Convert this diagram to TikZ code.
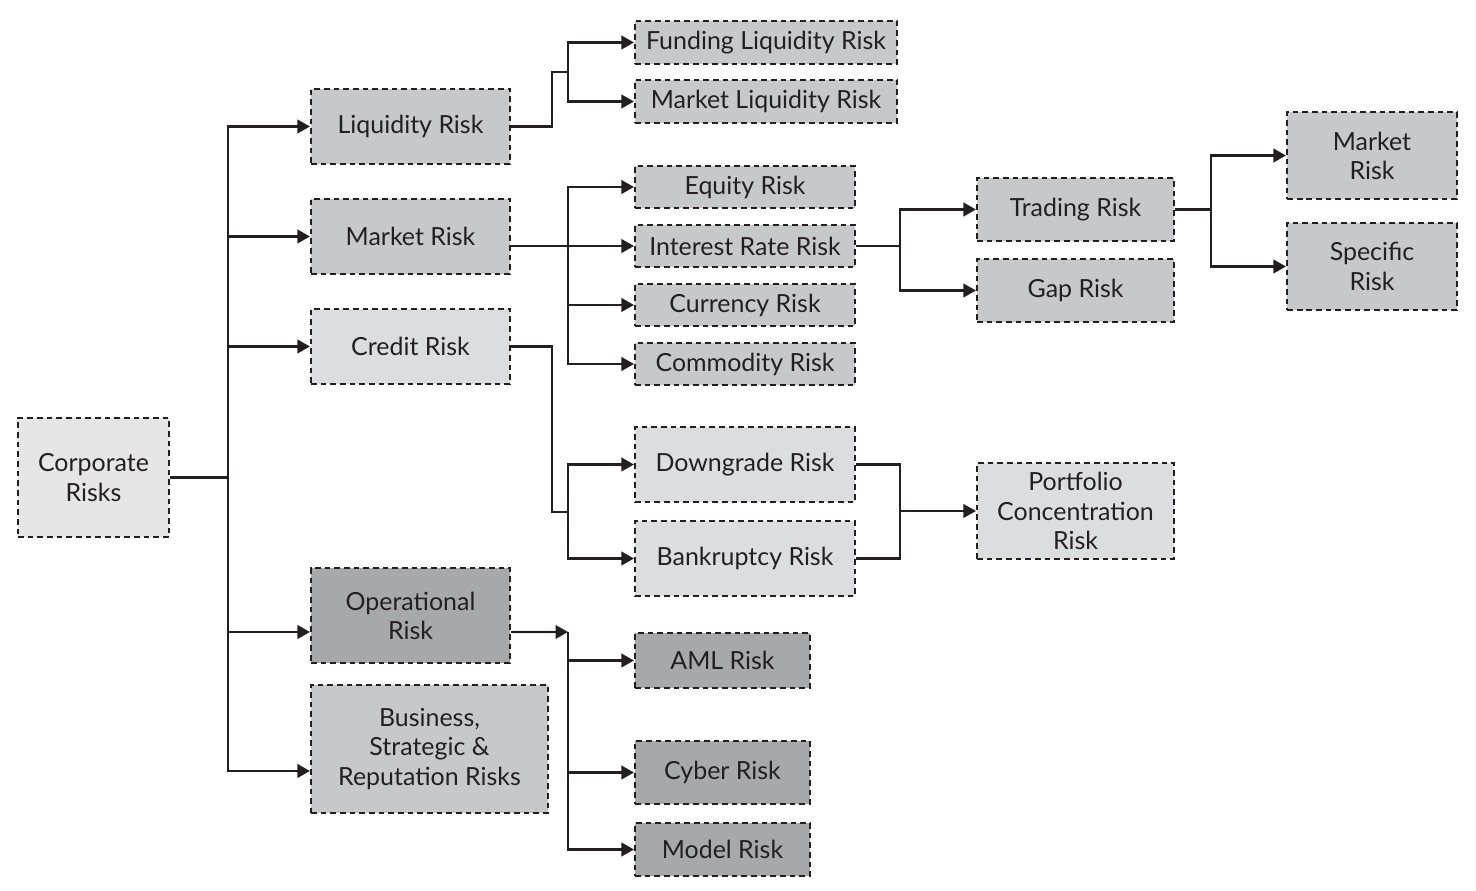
\documentclass[tikz,border=0pt]{standalone}
\usepackage{fontspec}
\setmainfont{Lato}
\usetikzlibrary{arrows.meta}

\definecolor{inkgrey}{HTML}{231F20}
\definecolor{palegrey}{HTML}{E6E6E6}
\definecolor{lightgrey}{HTML}{DCDDDE}
\definecolor{midgrey}{HTML}{C7C8CA}
\definecolor{darkgrey}{HTML}{A7A8AA}

\begin{document}
\begin{tikzpicture}[
    x=0.02cm, y=-0.02cm,
    box/.style={draw=inkgrey, line width=1.2pt, dash pattern=on 3.3pt off 2.2pt, align=center,
        inner sep=0pt, text=inkgrey, font=\fontsize{14.2}{16.6}\selectfont},
    palebox/.style={box, fill=palegrey},
    lightbox/.style={box, fill=lightgrey},
    midbox/.style={box, fill=midgrey},
    darkbox/.style={box, fill=darkgrey},
    line/.style={draw=inkgrey, line width=1.3pt},
    arrow/.style={line, -{Triangle[length=0.25cm, width=0.27cm]}}
]
\useasboundingbox (0,0) rectangle (1476,891);

% Nodes
\node (corp) [palebox, minimum width=3.02cm, minimum height=2.38cm] at (93.5,477.5) {Corporate\\Risks};
\node (liq) [midbox, minimum width=3.98cm, minimum height=1.5cm] at (410.5,126.5) {Liquidity Risk};
\node (mkt) [midbox, minimum width=3.98cm, minimum height=1.5cm] at (410.5,236.5) {Market Risk};
\node (cred) [lightbox, minimum width=3.98cm, minimum height=1.5cm] at (410.5,346.5) {Credit Risk};
\node (op) [darkbox, minimum width=3.98cm, minimum height=1.9cm] at (410.5,615.5) {Operational\\Risk};
\node (bus) [midbox, minimum width=4.74cm, minimum height=2.56cm] at (429.5,749) {Business,\\Strategic \&\\Reputation Risks};

\node (fund) [midbox, minimum width=5.24cm, minimum height=0.86cm] at (766,42.5) {Funding Liquidity Risk};
\node (mliq) [midbox, minimum width=5.24cm, minimum height=0.86cm] at (766,101.5) {Market Liquidity Risk};

\node (eq) [midbox, minimum width=4.4cm, minimum height=0.84cm] at (745,187) {Equity Risk};
\node (ir) [midbox, minimum width=4.4cm, minimum height=0.84cm] at (745,246) {Interest Rate Risk};
\node (cur) [midbox, minimum width=4.4cm, minimum height=0.84cm] at (745,305) {Currency Risk};
\node (com) [midbox, minimum width=4.4cm, minimum height=0.84cm] at (745,364) {Commodity Risk};

\node (trd) [midbox, minimum width=3.94cm, minimum height=1.26cm] at (1075.5,209.5) {Trading Risk};
\node (gap) [midbox, minimum width=3.94cm, minimum height=1.26cm] at (1075.5,290.5) {Gap Risk};
\node (mr) [midbox, minimum width=3.4cm, minimum height=1.74cm] at (1372,155.5) {Market\\Risk};
\node (sr) [midbox, minimum width=3.4cm, minimum height=1.74cm] at (1372,266.5) {Specific\\Risk};

\node (dg) [lightbox, minimum width=4.4cm, minimum height=1.5cm] at (745,464.5) {Downgrade Risk};
\node (bk) [lightbox, minimum width=4.4cm, minimum height=1.5cm] at (745,558.5) {Bankruptcy Risk};
\node (pc) [lightbox, minimum width=3.94cm, minimum height=1.92cm] at (1075.5,511) {Portfolio\\Concentration\\Risk};

\node (aml) [darkbox, minimum width=3.5cm, minimum height=1.1cm] at (722.5,660.5) {AML Risk};
\node (cyb) [darkbox, minimum width=3.5cm, minimum height=1.26cm] at (722.5,772.5) {Cyber Risk};
\node (mdl) [darkbox, minimum width=3.5cm, minimum height=1.06cm] at (722.5,849.5) {Model Risk};

% Forks
\coordinate (trunk) at (228,477.5);
\coordinate (liqfork) at (568,72);
\coordinate (mktfork) at (568,246);
\coordinate (irfork) at (900,246);
\coordinate (trdfork) at (1211,209.5);
\coordinate (credfork) at (568,512);
\coordinate (pcfork) at (900,511);
\coordinate (opfork) at (568,632);

% Arrows
\draw [line] (corp.east) -- (trunk);
\draw [arrow] (trunk) |- (liq.west);
\draw [arrow] (trunk) |- (mkt.west);
\draw [arrow] (trunk) |- (cred.west);
\draw [arrow] (trunk) |- ([yshift=-0.33cm]op.west);
\draw [arrow] (trunk) |- ([yshift=-0.44cm]bus.west);

\draw [line] (liq.east) -- ++(41,0) |- (liqfork);
\draw [arrow] (liqfork) |- (fund.west);
\draw [arrow] (liqfork) |- (mliq.west);

\draw [arrow] (mkt.east |- ir.west) -- (ir.west);
\draw [arrow] (mktfork) |- (eq.west);
\draw [arrow] (mktfork) |- (cur.west);
\draw [arrow] (mktfork) |- (com.west);

\draw [line] (ir.east) -- (irfork);
\draw [arrow] (irfork) |- (trd.west);
\draw [arrow] (irfork) |- (gap.west);

\draw [line] (trd.east) -- (trdfork);
\draw [arrow] (trdfork) |- (mr.west);
\draw [arrow] (trdfork) |- (sr.west);

\draw [line] (cred.east) -- ++(41,0) |- (credfork);
\draw [arrow] (credfork) |- (dg.west);
\draw [arrow] (credfork) |- (bk.west);

\draw [line] (dg.east) -| (pcfork);
\draw [line] (bk.east) -| (pcfork);
\draw [arrow] (pcfork) -- (pc.west);

\draw [arrow] ([yshift=-0.33cm]op.east) -- (opfork);
\draw [arrow] (opfork) |- (aml.west);
\draw [arrow] (opfork) |- (cyb.west);
\draw [arrow] (opfork) |- (mdl.west);

\end{tikzpicture}
\end{document}
